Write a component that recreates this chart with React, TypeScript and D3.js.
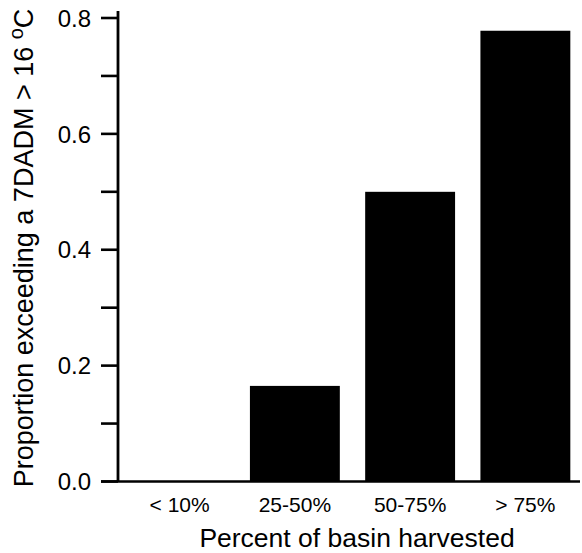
import React, { useEffect, useRef } from 'react';
import * as d3 from 'd3';

const categories = ['< 10%', '25-50%', '50-75%', '> 75%'];
const proportions = [0.0, 0.165, 0.5, 0.778];
const majorTicks = [0, 0.2, 0.4, 0.6, 0.8];
const minorTicks = [0.1, 0.3, 0.5, 0.7];

const width = 582;
const height = 553;
const font = '"Liberation Sans", Arial, Helvetica, sans-serif';

const App: React.FC = () => {
  const svgRef = useRef<SVGSVGElement>(null);

  useEffect(() => {
    const svg = d3.select(svgRef.current);
    svg.selectAll('*').remove();

    const axisX = 118;
    const tickLen = 17;

    const xScale = d3.scaleBand<string>()
      .domain(categories)
      .range([122, 583])
      .paddingInner(0.22)
      .paddingOuter(0.11);

    const yScale = d3.scaleLinear()
      .domain([0, 0.8])
      .range([481.5, 18]);

    // Bars
    svg.append('g')
      .selectAll('rect')
      .data(proportions)
      .enter().append('rect')
      .attr('x', (_, i) => xScale(categories[i])!)
      .attr('y', d => yScale(d))
      .attr('width', xScale.bandwidth())
      .attr('height', d => yScale(0) - yScale(d))
      .attr('fill', '#000');

    // Axis lines
    svg.append('line')
      .attr('x1', axisX).attr('x2', axisX)
      .attr('y1', 11).attr('y2', yScale(0))
      .attr('stroke', '#000').attr('stroke-width', 2.8);

    svg.append('line')
      .attr('x1', axisX - tickLen).attr('x2', 580)
      .attr('y1', yScale(0)).attr('y2', yScale(0))
      .attr('stroke', '#000').attr('stroke-width', 2.6);

    // Y ticks, major and minor have the same length
    svg.append('g')
      .selectAll('line')
      .data([...majorTicks, ...minorTicks])
      .enter().append('line')
      .attr('x1', axisX - tickLen).attr('x2', axisX)
      .attr('y1', d => yScale(d)).attr('y2', d => yScale(d))
      .attr('stroke', '#000').attr('stroke-width', 2.6);

    svg.append('g')
      .selectAll('text')
      .data(majorTicks)
      .enter().append('text')
      .attr('x', 91)
      .attr('y', d => yScale(d))
      .attr('dy', '0.36em')
      .attr('text-anchor', 'end')
      .style('font-family', font)
      .style('font-size', '24px')
      .text(d => d3.format('.1f')(d));

    // X tick labels
    svg.append('g')
      .selectAll('text')
      .data(categories)
      .enter().append('text')
      .attr('x', d => xScale(d)! + xScale.bandwidth() / 2)
      .attr('y', 512)
      .attr('text-anchor', 'middle')
      .style('font-family', font)
      .style('font-size', '21px')
      .text(d => d);

    // X axis title
    svg.append('text')
      .attr('x', 357)
      .attr('y', 547)
      .attr('text-anchor', 'middle')
      .style('font-family', font)
      .style('font-size', '26.5px')
      .text('Percent of basin harvested');

    // Y axis title with superscript degree "o"
    const yTitle = svg.append('text')
      .attr('transform', 'translate(33,248) rotate(-90)')
      .attr('text-anchor', 'middle')
      .style('font-family', font)
      .style('font-size', '27px');
    yTitle.append('tspan').text('Proportion exceeding a 7DADM > 16 ');
    yTitle.append('tspan').attr('dy', -10).style('font-size', '20px').text('o');
    yTitle.append('tspan').attr('dy', 10).text('C');
  }, []);

  return (
    <svg
      ref={svgRef}
      width={width}
      height={height}
      style={{ position: 'absolute', left: 0, top: 0, background: '#fff' }}
    />
  );
};

export default App;
